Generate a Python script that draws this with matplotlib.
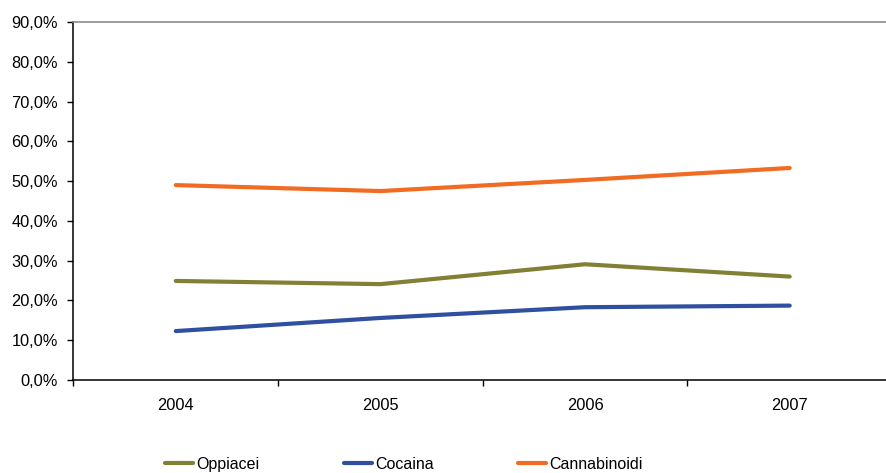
import matplotlib
matplotlib.use("Agg")
import matplotlib.pyplot as plt
from matplotlib.ticker import FuncFormatter, FixedLocator

years = ["2004", "2005", "2006", "2007"]
oppiacei = [24.9, 24.1, 29.1, 26.0]
cocaina = [12.3, 15.6, 18.3, 18.7]
cannabinoidi = [49.0, 47.5, 50.3, 53.3]
series_names = ["Oppiacei", "Cocaina", "Cannabinoidi"]
colors = ["#818034", "#2F4FA0", "#F26B22"]

plt.rcParams['font.family'] = ['Liberation Sans', 'DejaVu Sans']

fig = plt.figure(figsize=(8.87, 4.73), dpi=100)
ax = fig.add_axes([73.5/887, 1-380/473, (892-73.5)/887, 358/473])

xs = [i + 0.5 for i in range(len(years))]
for vals, name, c in zip([oppiacei, cocaina, cannabinoidi], series_names, colors):
    ax.plot(xs, vals, color=c, lw=3.0, label=name, solid_capstyle='round', solid_joinstyle='round')

ax.set_xlim(0, len(years))
ax.set_ylim(0, 90)
ax.set_yticks(range(0, 91, 10))
ax.yaxis.set_major_formatter(FuncFormatter(lambda v, p: f"{v:.1f}".replace('.', ',') + "%"))
ax.xaxis.set_major_locator(FixedLocator(range(0, len(years) + 1)))
ax.xaxis.set_minor_locator(FixedLocator(xs))
ax.set_xticklabels([])
ax.set_xticklabels(years, minor=True)
ax.tick_params(axis='x', which='major', direction='out', length=4, width=1, color='black')
ax.tick_params(axis='x', which='minor', length=0, pad=13, labelsize=11.8)
ax.tick_params(axis='y', direction='out', length=4, width=1, pad=7, labelsize=11.8)

ax.spines['right'].set_visible(False)
ax.spines['top'].set_color('#8c8c8c')
ax.spines['top'].set_linewidth(1.2)
for s in ['left', 'bottom']:
    ax.spines[s].set_color('black')
    ax.spines[s].set_linewidth(1.1)

fig.legend(loc='center', bbox_to_anchor=(404/887, 1-464/473), ncol=3, frameon=False,
           fontsize=11.5, handlelength=1.75, handletextpad=0.2, columnspacing=5.3,
           borderaxespad=0, borderpad=0)

fig.savefig("out.png", dpi=100)
